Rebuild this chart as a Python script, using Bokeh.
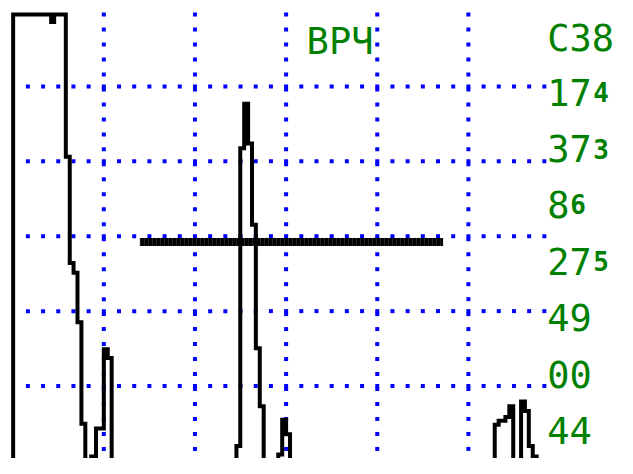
from bokeh.plotting import figure
from bokeh.models import Range1d, ColumnDataSource
from bokeh.core.properties import value
from bokeh.embed import file_html
from bokeh.resources import INLINE
import numpy as np

# ---- data (screen divisions: x = horizontal divisions, y = vertical divisions) ----
trace_x = [0.005, 0.005, 0.422, 0.422, 0.455, 0.455, 0.583, 0.583, 0.626, 0.626,
           0.668, 0.668, 0.711, 0.711, 0.754, 0.754, 0.797, 0.797, 0.861, 0.861,
           0.914, 0.914, 1.000, 1.000, 1.043, 1.043, 1.086, 1.086,
           2.455, 2.455, 2.497, 2.497, 2.540, 2.540, 2.583, 2.583, 2.626, 2.626,
           2.668, 2.668, 2.711, 2.711, 2.754, 2.754,
           2.914, 2.914, 2.957, 2.957, 3.000, 3.000, 3.043, 3.043,
           5.289, 5.289, 5.332, 5.332, 5.406, 5.406, 5.449, 5.449, 5.492, 5.492,
           5.578, 5.578, 5.620, 5.620, 5.663, 5.663, 5.706, 5.706, 5.749, 5.749]
trace_y = [-0.05, 5.961, 5.961, 5.861, 5.861, 5.961, 5.961, 4.062, 4.062, 2.643,
           2.643, 2.514, 2.514, 1.852, 1.852, 0.497, 0.497, -0.05, -0.05, 0.058,
           0.058, 0.432, 0.432, 1.490, 1.490, 1.374, 1.374, -0.05,
           -0.05, 0.200, 0.200, 4.174, 4.174, 4.768, 4.768, 4.239, 4.239, 3.155,
           3.155, 1.503, 1.503, 0.729, 0.729, -0.05,
           -0.05, 0.084, 0.084, 0.548, 0.548, 0.355, 0.355, -0.05,
           -0.05, 0.484, 0.484, 0.535, 0.535, 0.587, 0.587, 0.729, 0.729, -0.05,
           -0.05, 0.794, 0.794, 0.665, 0.665, 0.200, 0.200, 0.058, 0.058, -0.05]

gate_x = [1.396, 4.722]
gate_y = [2.923, 2.923]

title_text = "ВРЧ"
title_x, title_y = 3.225, 5.594

# right-hand readouts: big part, small trailing digit, baseline
label_big = ["C38", "17", "37", "8", "27", "49", "00", "44"]
label_small = ["", "4", "3", "6", "5", "", "", ""]
label_y = [5.641, 4.923, 4.170, 3.426, 2.665, 1.916, 1.159, 0.406]
label_x = 5.866
cell = 0.2513  # width of one character cell in divisions

grid_x_lines = [1, 2, 3, 4, 5]
grid_y_lines = [1, 2, 3, 4, 5]

# ---- figure ----
X0, X1 = -0.1337, 6.636
Y0, Y1 = 0.032, 6.148
p = figure(width=617, height=458, output_backend="svg", toolbar_location=None,
           x_range=Range1d(X0, X1), y_range=Range1d(Y0, Y1),
           min_border=0, background_fill_color="white", border_fill_color="white")
p.axis.visible = False
p.grid.visible = False
p.outline_line_color = None

# dotted grid made of small blue squares
hx, hy = [], []
for gy in grid_y_lines:
    for k in range(1, 36):
        hx.append(k / 6.0)
        hy.append(gy)
vx, vy = [], []
for gx in grid_x_lines:
    for k in range(0, 30):
        vx.append(gx)
        vy.append(5.96 - 0.2 * k)
p.scatter(hx + vx, hy + vy, marker="square", size=4, fill_color="#0000ff",
          line_color=None)

# gate bar
p.line(gate_x, gate_y, line_width=8, line_color="black", line_cap="butt")
p.line(gate_x, gate_y, line_width=8, line_color="#262626", line_cap="butt",
       line_dash="1 3")

# echo trace
p.line(trace_x, trace_y, line_width=4, line_color="black", line_join="miter")

# texts
green = "#008000"
FONT = value("DejaVu Sans Mono")
p.text(x=[title_x], y=[title_y], text=[title_text], text_font=FONT,
       text_font_size="37px", text_color=green, text_baseline="alphabetic",
       text_align="left")

src_big = ColumnDataSource(dict(x=[label_x] * len(label_big), y=label_y, t=label_big))
p.text(x="x", y="y", text="t", source=src_big, text_font=FONT,
       text_font_size="37px", text_color=green, text_baseline="alphabetic",
       text_align="left")

sx, sy, st = [], [], []
for b, s, yy in zip(label_big, label_small, label_y):
    if s:
        sx.append(label_x + cell * len(b))
        sy.append(yy)
        st.append(s)
src_small = ColumnDataSource(dict(x=sx, y=sy, t=st))
p.text(x="x", y="y", text="t", source=src_small, text_font=FONT,
       text_font_size="26px", text_font_style="bold", text_color=green,
       text_baseline="alphabetic", text_align="left")

open("out.html", "w").write(file_html(p, INLINE))
